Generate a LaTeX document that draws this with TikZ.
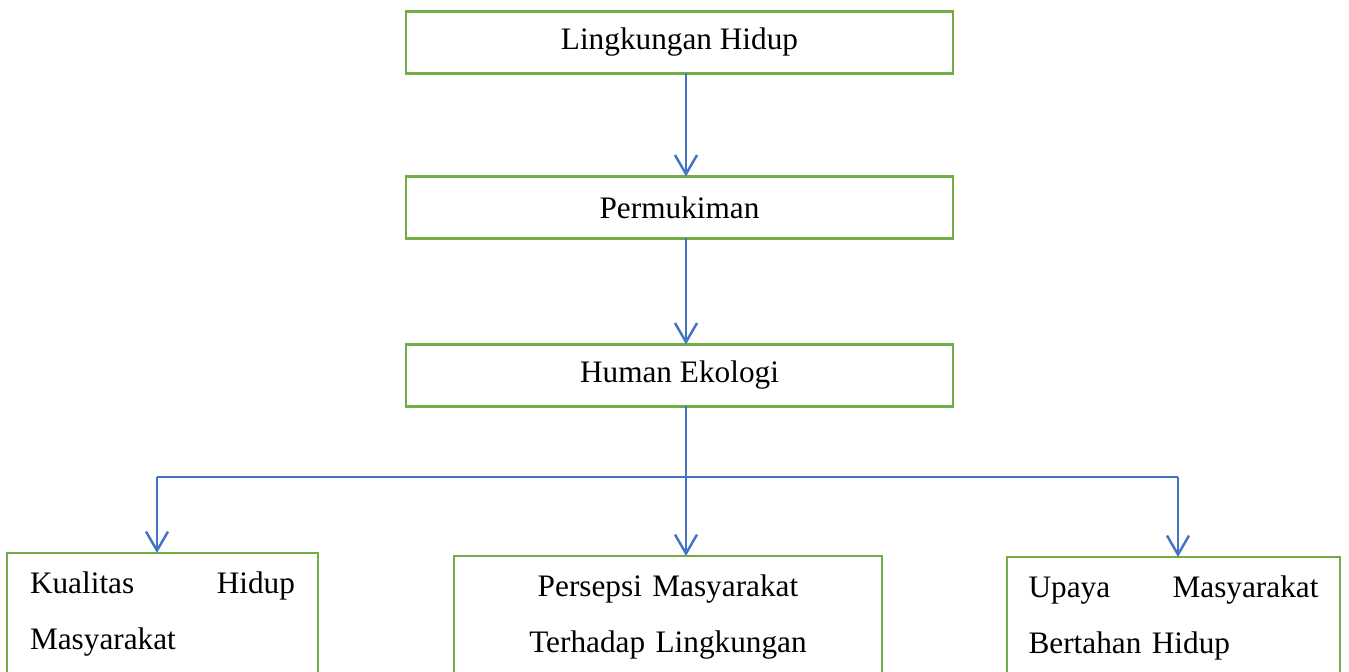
\documentclass[tikz,border=0pt]{standalone}
\usepackage{fontspec}
\setmainfont{Liberation Serif}
\usetikzlibrary{arrows.meta}
\definecolor{boxgreen}{HTML}{70AD47}
\definecolor{arrowblue}{HTML}{4472C4}

\begin{document}
\begin{tikzpicture}[x=0.02cm, y=-0.02cm,
    every node/.style={font=\fontsize{17.8}{31.5}\selectfont},
    topbox/.style={draw=boxgreen, line width=1.6pt, outer sep=0pt, minimum width=10.94cm, minimum height=1.24cm},
    lowbox/.style={draw=boxgreen, line width=1.6pt, outer sep=0pt, anchor=north, minimum height=2.44cm, inner ysep=0pt},
    arr/.style={draw=arrowblue, line width=1.4pt, -{Straight Barb[length=0.38cm, width=0.44cm]}},
    bus/.style={draw=arrowblue, line width=0.8pt}]
    \clip (0,0) rectangle (1349,672);

    % Main chain
    \node[topbox] (lh) at (679.5,42.5) {Lingkungan Hidup};
    \node[topbox] (pm) at (679.5,207.5) {Permukiman};
    \node[topbox] (he) at (679.5,375.5) {Human Ekologi};

    % Branches
    \node[lowbox, minimum width=6.22cm, text width=5.3cm, align=left] (kh) at (162.5,553) {Kualitas\hfill Hidup\\Masyarakat};
    \node[lowbox, minimum width=8.56cm, text width=7.5cm, align=center] (pl) at (668,556) {Persepsi Masyarakat\\Terhadap Lingkungan};
    \node[lowbox, minimum width=6.66cm, text width=5.8cm, align=left] (bh) at (1173.5,557) {Upaya\hfill Masyarakat\\Bertahan Hidup};

    % Arrows
    \coordinate (jl) at (157,477);
    \coordinate (jm) at (686,477);
    \coordinate (jr) at (1178,477);
    \draw[arr] (lh.south -| jm) -- (pm.north -| jm);
    \draw[arr] (pm.south -| jm) -- (he.north -| jm);
    \draw[bus] (he.south -| jm) -- (jm);
    \draw[bus] (jl) -- (jr);
    \draw[arr] (jl) -- (kh.north -| jl);
    \draw[arr] (jm) -- (pl.north -| jm);
    \draw[arr] (jr) -- (bh.north -| jr);
\end{tikzpicture}
\end{document}
